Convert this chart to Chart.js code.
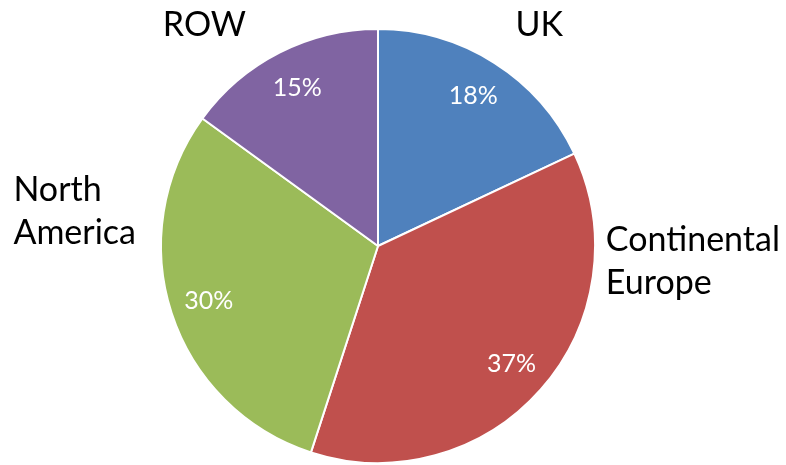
<!DOCTYPE html>
<html>
<head>
<meta charset="utf-8">
<script src="https://cdn.jsdelivr.net/npm/chart.js@4"></script>
<style>
  body { margin: 0; background: #fff; }
  #wrap { width: 786px; height: 465px; }
</style>
</head>
<body>
<div id="wrap"><canvas id="myChart"></canvas></div>
<script>
// region shares
var regions = ['UK', 'Continental Europe', 'North America', 'ROW'];
var shares = [18, 37, 30, 15];
var colours = ['#4F81BD', '#C0504D', '#9BBB59', '#8064A2'];

// outside labels: lines, placement relative to centre (in radii), alignment
var labelLines = [['UK'], ['Continental', 'Europe'], ['North', 'America'], ['ROW']];
var labelPos = [[0.743, -1.02, 'center'], [1.05, 0.07, 'left'], [-1.68, -0.16, 'left'], [-0.80, -1.02, 'center']];

var font = 'Lato, "Open Sans", sans-serif';

// draws category names and percentages
var labelPlugin = {
    id: 'pieLabels',
    afterDatasetsDraw: function(chart) {
        var c = chart.ctx;
        var arcs = chart.getDatasetMeta(0).data;
        var total = shares.reduce(function(a, b) { return a + b; }, 0);
        c.save();
        arcs.forEach(function(arc, i) {
            var p = arc.getProps(['x', 'y', 'startAngle', 'endAngle', 'outerRadius'], true);
            var mid = (p.startAngle + p.endAngle) / 2;
            var r = p.outerRadius;
            // percentage inside
            c.fillStyle = '#fff';
            c.font = '25px ' + font;
            c.textAlign = 'center';
            c.textBaseline = 'middle';
            c.fillText(Math.round(shares[i] / total * 100) + '%', p.x + Math.cos(mid) * r * 0.82, p.y + Math.sin(mid) * r * 0.82);
            // name outside
            c.fillStyle = '#000';
            c.font = '34px ' + font;
            c.textAlign = labelPos[i][2];
            var lines = labelLines[i];
            var lh = 43;
            var y0 = p.y + labelPos[i][1] * r - (lines.length - 1) * lh / 2;
            lines.forEach(function(t, k) {
                c.fillText(t, p.x + labelPos[i][0] * r, y0 + k * lh);
            });
        });
        c.restore();
    }
};

var ctx = document.getElementById('myChart').getContext('2d');
var myChart = new Chart(ctx, {
    type: 'pie',
    data: {
        labels: regions,
        datasets: [{
            data: shares,
            backgroundColor: colours,
            borderColor: '#fff',
            borderWidth: 2
        }]
    },
    options: {
        responsive: true,
        maintainAspectRatio: false,
        animation: false,
        layout: { padding: { top: 27, bottom: 0, left: 160, right: 190 } },
        plugins: {
            legend: { display: false },
            tooltip: { enabled: false }
        }
    },
    plugins: [labelPlugin]
});
</script>
</body>
</html>
